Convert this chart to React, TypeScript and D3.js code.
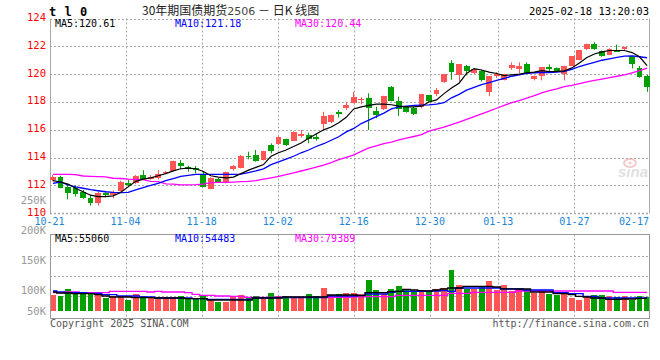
import React from 'react';
import * as d3 from 'd3';

const dates = ['10-21','10-22','10-23','10-24','10-25','10-28','10-29','10-30','10-31','11-01','11-04','11-05','11-06','11-07','11-08','11-11','11-12','11-13','11-14','11-15','11-18','11-19','11-20','11-21','11-22','11-25','11-26','11-27','11-28','11-29','12-02','12-03','12-04','12-05','12-06','12-09','12-10','12-11','12-12','12-13','12-16','12-17','12-18','12-19','12-20','12-23','12-24','12-25','12-26','12-27','12-30','12-31','01-02','01-03','01-06','01-07','01-08','01-09','01-10','01-13','01-14','01-15','01-16','01-17','01-20','01-21','01-22','01-23','01-24','01-27','02-05','02-06','02-07','02-10','02-11','02-12','02-13','02-14','02-17','02-18'];

const opens = [112.40,112.63,111.92,111.84,111.56,111.13,110.77,111.49,111.32,111.63,112.20,112.20,112.75,112.50,112.56,112.87,113.04,113.59,113.35,113.28,112.80,111.75,112.50,112.27,113.19,113.28,114.12,114.19,113.83,114.91,114.96,115.34,115.22,115.58,115.63,115.46,116.42,116.54,117.30,117.59,117.95,118.20,118.26,117.35,117.47,119.10,118.07,117.66,117.54,117.66,118.47,118.54,119.41,120.78,119.95,120.59,120.07,120.24,118.71,119.84,119.60,120.47,120.38,120.71,119.67,119.90,120.48,120.44,120.00,120.61,121.03,121.80,122.14,121.66,121.41,121.77,121.84,121.32,120.42,119.84];
const closes = [112.63,111.84,111.49,111.39,111.13,110.72,111.44,111.32,111.56,112.28,112.04,112.68,112.50,112.63,112.83,112.99,113.76,113.40,113.16,113.11,111.92,112.56,112.27,112.95,113.43,114.12,114.07,113.78,114.48,114.48,115.51,114.91,115.87,115.70,115.34,115.37,116.99,117.07,117.14,117.78,118.34,118.25,117.54,117.07,118.43,118.07,117.47,117.30,117.14,118.57,118.07,118.89,120.00,120.19,120.71,120.26,120.38,119.60,119.84,120.02,120.00,120.66,120.59,120.00,119.88,120.48,120.37,120.24,120.58,121.29,121.72,122.17,121.79,121.32,121.84,121.62,121.95,120.73,119.76,119.06];
const highs = [112.75,112.70,112.02,112.00,111.68,111.30,111.56,111.62,111.65,112.35,112.40,112.75,113.10,112.75,113.10,113.04,113.78,113.83,113.42,113.40,113.04,112.58,112.55,113.00,113.48,114.19,114.43,114.55,114.50,115.03,115.53,115.36,115.90,115.99,115.80,115.75,117.30,117.10,117.42,118.02,118.74,118.34,118.62,117.66,118.45,119.15,118.38,117.71,117.66,118.59,118.50,119.00,120.02,121.01,120.73,120.66,120.43,120.31,119.86,120.14,120.02,120.85,120.85,120.85,119.90,120.50,120.70,120.48,120.60,121.31,121.74,122.19,122.30,121.70,121.86,122.12,121.97,121.34,120.59,119.94];
const lows = [112.30,111.80,111.00,111.20,111.03,110.55,110.55,111.20,111.08,111.56,111.92,112.10,112.43,112.43,112.43,112.82,113.00,113.18,112.99,112.87,111.90,111.72,112.20,112.15,113.07,113.23,113.88,113.71,113.80,114.31,114.91,114.84,115.20,115.44,115.03,115.22,115.99,116.47,116.88,117.43,117.90,117.83,115.99,116.83,117.42,118.05,117.00,117.23,117.07,117.54,118.02,118.42,119.38,119.60,119.48,119.91,120.00,119.48,118.42,119.72,119.55,120.31,120.07,119.98,119.55,119.55,120.20,120.17,119.55,120.58,121.00,121.72,121.74,121.25,121.36,121.60,121.70,120.42,119.74,118.73];

const ma5 = [112.35,112.25,112.10,111.80,111.55,111.30,111.20,111.20,111.25,111.50,111.90,112.30,112.45,112.55,112.70,112.85,113.05,113.20,113.25,113.20,113.00,112.70,112.60,112.55,112.60,112.85,113.10,113.30,113.50,114.10,114.35,114.55,114.80,115.05,115.40,115.70,116.00,116.20,116.50,116.90,117.50,117.65,117.75,117.85,117.85,117.80,117.70,117.65,117.65,117.70,118.00,118.15,118.60,119.00,119.35,120.05,120.40,120.30,120.15,120.05,119.90,119.95,120.00,120.10,120.15,120.25,120.18,120.20,120.24,120.45,120.80,121.20,121.45,121.60,121.70,121.70,121.70,121.55,121.25,120.61];
const ma10 = [112.15,112.25,112.05,111.90,111.80,111.70,111.62,111.55,111.50,111.49,111.50,111.68,111.85,112.00,112.15,112.35,112.50,112.65,112.72,112.80,112.80,112.80,112.80,112.80,112.80,112.82,112.93,113.05,113.20,113.50,113.70,113.90,114.10,114.35,114.55,114.80,115.00,115.25,115.50,115.85,116.10,116.45,116.70,116.95,117.20,117.50,117.65,117.70,117.75,117.78,117.79,117.85,117.95,118.30,118.55,118.85,119.05,119.25,119.40,119.55,119.70,119.85,119.95,120.05,120.10,120.12,120.12,120.15,120.20,120.35,120.55,120.70,120.85,121.00,121.10,121.20,121.30,121.32,121.25,121.18];
const ma30 = [112.80,112.80,112.80,112.78,112.68,112.65,112.63,112.62,112.52,112.50,112.45,112.44,112.42,112.30,112.27,112.12,112.10,112.05,112.04,112.06,112.10,112.20,112.22,112.22,112.24,112.27,112.30,112.35,112.45,112.55,112.65,112.78,112.90,113.04,113.18,113.32,113.47,113.65,113.85,114.02,114.20,114.45,114.70,114.85,115.00,115.12,115.27,115.40,115.52,115.65,115.90,116.05,116.20,116.38,116.55,116.75,116.95,117.15,117.35,117.55,117.75,117.95,118.10,118.28,118.45,118.65,118.82,118.95,119.10,119.20,119.32,119.45,119.55,119.65,119.75,119.85,119.95,120.10,120.25,120.44];

// volume, thousands of lots
const volumes = [91.1,89.4,101,95,92.8,95,93.3,86.7,90,87.8,83.3,93.3,90.6,86.7,87.2,86.7,87.2,90.6,86.7,84.4,90.6,85.6,80.6,80,88.3,91.1,87,90,85.6,95,90,90,86.7,86.7,93.3,90,103.3,91.1,93.3,95,95,93.3,116.7,100,93.3,101.7,106.7,100,97.8,100,97.8,101.7,103.3,133.3,108.3,101.7,101.7,105,115,100,108.3,98.3,101.7,100,95,98.3,93.3,91.7,93.3,86.7,83.3,88.3,91.7,91.7,90,88.3,90,83.3,90,88.3];
const volMa5 = [96.7,95,95,93.9,93.9,93.9,92.2,90,88.3,88.3,88.3,87.2,87.2,87.2,86.7,86.7,86.7,86.7,85.6,85.6,85.6,83.3,83.3,83.3,83.3,83.3,83.1,86.7,86.7,86.7,86.7,88.3,88.3,88.3,88.3,88.3,88.3,91.7,91.7,91.7,91.7,90.6,95.6,95.6,95.6,97.2,97.8,101,100,99,98.3,100,101.7,103.3,103.3,106.1,106.1,106.1,106.1,105,102,102,101.7,101.7,96.7,96.7,96.7,93.9,93.9,92.2,89.4,88.3,86.7,86.7,84.4,84.4,85,85,86,86];
const volMa10 = [98.3,96.7,95.6,95.6,95.6,94.4,94.4,92.2,92.2,90,90,90,88.3,88.3,86.7,86.7,86.7,86.7,86.7,85.6,85.6,84.4,84.4,84.4,84.4,84.4,84.4,86.7,86.7,86.7,87.5,87.5,87.5,87.5,87.5,87.5,87.5,90,90,90,90,91.1,93.3,93.3,93.3,96,97.8,97.8,97.8,97.8,98.3,98.3,99,97.8,103.3,103.3,103.3,103.3,103.3,103.3,101.7,101.7,101.7,100,100,100,100,95.6,95.6,93.9,93.9,89.4,89.4,86.7,86.7,86.7,86.7,86.7,86.7,86.7];
const volMa30 = [95.6,95.6,96.7,96.7,95.6,95.6,95.6,95.6,97.8,97.8,97.8,97.8,97.8,96.7,97.8,96.7,96.7,96.7,95.6,92.8,91.1,91.1,90,90,89.4,89.4,87.8,87.8,87.8,87.8,87.8,87.8,87.8,87.8,87.8,87.8,87.8,87.8,87.8,87.8,88.5,88.5,88.9,88.9,88.9,88.9,91.1,91.1,91.1,91.1,91.1,91.1,91.1,94.4,94.4,94.4,96.1,96.1,96.1,96.1,96.1,96.1,98.3,98.3,98.3,98.3,98.3,98.3,98.3,98.3,98.3,98.3,98.3,98.3,98.3,96.1,96.1,96.1,96.1,96.1];

const priceTicks = [110, 112, 114, 116, 118, 120, 122, 124];
const volTicks = [50, 100, 150, 200, 250];
const dateTicks = ['10-21', '11-04', '11-18', '12-02', '12-16', '12-30', '01-13', '01-27', '02-17'];

const priceLegend = [
  { label: 'MA5:120.61', color: '#000000' },
  { label: 'MA10:121.18', color: '#0000ff' },
  { label: 'MA30:120.44', color: '#ff00ff' },
];
const volLegend = [
  { label: 'MA5:55060', color: '#000000' },
  { label: 'MA10:54483', color: '#0000ff' },
  { label: 'MA30:79389', color: '#ff00ff' },
];

const W = 660, H = 360;
const L = 50, R = 650;
const PT = 18.5, PB = 213.3;
const VT = 234.5, VB = 318.5, VBASE = 311;
const MONO = "'DejaVu Sans Mono', 'Liberation Mono', monospace";
const UP = '#ff5555';
const DOWN = '#00a000';
const GRID = '#a8a8a8';

const px = (v: number) => Math.round(v) + 0.5;

export default function App() {
  const x = d3.scaleBand<string>().domain(dates).range([L, R]).paddingInner(0.22);
  const gx = d3.scalePoint<string>().domain(dates).range([49.5, 650.5]);
  const y = d3.scaleLinear().domain([110, 124]).range([PB, PT]);
  const yv = d3.scaleLinear().domain([0, 250]).range([350, 200]);
  const bw = x.bandwidth();
  const cx = (i: number) => (x(dates[i]) as number) + bw / 2;

  const priceLine = (arr: number[]) =>
    d3.line<number>().x((_, i) => cx(i)).y((v) => y(v))(arr) || '';
  const volLine = (arr: number[]) =>
    d3.line<number>().x((_, i) => cx(i)).y((v) => yv(v)).curve(d3.curveStep)(arr) || '';

  const volGrid = d3.range(1, 4).map((k) => VT + 1 + k * 20);

  return (
    <svg width={W} height={H} style={{ position: 'absolute', left: 0, top: 0, background: '#fff' }}
      xmlns="http://www.w3.org/2000/svg">
      <rect x={0} y={0} width={W} height={H} fill="#fff" />

      {/* header */}
      <text x={49} y={16} fontFamily={MONO} fontWeight="bold" fontSize={12} fill="#000" letterSpacing={0.5}>t l 0</text>
      <text x={142} y={15} fontFamily="'Noto Sans CJK SC', sans-serif" fontSize={12} fill="#222">
        30年期国债期货<tspan fontFamily="'DejaVu Sans', sans-serif" fontSize={11} fill="#444">2506</tspan> － 日K 线图
      </text>
      <text x={649} y={15} textAnchor="end" fontFamily={MONO} fontSize={10.5} fill="#000">2025-02-18 13:20:03</text>

      {/* price panel grid */}
      {priceTicks.map((t) => (
        <line key={'pg' + t} x1={L} x2={R} y1={px(y(t))} y2={px(y(t))} stroke={GRID}
          strokeDasharray="2,2" strokeWidth={t === 110 ? 1.5 : 1} />
      ))}
      {dateTicks.slice(1, -1).map((d) => (
        <line key={'pv' + d} x1={px(gx(d) as number)} x2={px(gx(d) as number)} y1={PT} y2={PB}
          stroke={GRID} strokeDasharray="2,2" />
      ))}
      <line x1={px(L)} x2={px(L)} y1={PT} y2={PB} stroke={GRID} />
      <line x1={649.5} x2={649.5} y1={PT} y2={PB} stroke={GRID} />

      {/* sina watermark */}
      <g opacity={0.55}>
        <ellipse cx={630} cy={163} rx={6} ry={4} fill="none" stroke="#f2a0a0" strokeWidth={2} />
        <circle cx={630} cy={163} r={1.6} fill="#f2a0a0" />
        <text x={648} y={177} textAnchor="end" fontFamily="'Liberation Sans', Arial, sans-serif"
          fontStyle="italic" fontWeight="bold" fontSize={15} fill="#c8c8c8">sina</text>
      </g>

      {/* price labels */}
      {priceTicks.map((t) => (
        <text key={'pl' + t} x={46} y={y(t) + 2.5} textAnchor="end" fontFamily={MONO}
          fontSize={10.5} fill="#ff0000">{t}</text>
      ))}

      {/* candles */}
      {dates.map((d, i) => {
        const o = opens[i], c = closes[i];
        const col = c >= o ? UP : DOWN;
        const top = y(Math.max(o, c));
        const bot = y(Math.min(o, c));
        const xc = Math.floor(cx(i)) + 0.5;
        return (
          <g key={'c' + d}>
            <line x1={xc} x2={xc} y1={y(highs[i])} y2={y(lows[i])} stroke={col} strokeWidth={1} />
            <rect x={x(d)} y={top} width={bw} height={Math.max(1.2, bot - top)} fill={col}
              shapeRendering="crispEdges" />
          </g>
        );
      })}

      {/* price MA lines */}
      <path d={priceLine(ma30)} fill="none" stroke="#ff00ff" strokeWidth={1.3} />
      <path d={priceLine(ma10)} fill="none" stroke="#0000ff" strokeWidth={1.3} />
      <path d={priceLine(ma5)} fill="none" stroke="#000000" strokeWidth={1.2} />

      {/* price legend */}
      {priceLegend.map((m, k) => (
        <text key={'lg' + k} x={55 + k * 120} y={27} fontFamily={MONO} fontSize={10} fill={m.color}>{m.label}</text>
      ))}

      {/* date labels */}
      {dateTicks.map((d, k) => {
        const gxv = gx(d) as number;
        const last = k === dateTicks.length - 1;
        return (
          <text key={'dl' + d} x={last ? 649 : gxv} y={225} textAnchor={last ? 'end' : 'middle'}
            fontFamily={MONO} fontSize={10} fill="#1a86d8">{d}</text>
        );
      })}

      {/* volume panel */}
      {volGrid.map((gy, k) => (
        <line key={'vg' + k} x1={L} x2={R} y1={px(gy)} y2={px(gy)} stroke={GRID} strokeDasharray="2,2" />
      ))}
      {dateTicks.slice(1, -1).map((d) => (
        <line key={'vv' + d} x1={px(gx(d) as number)} x2={px(gx(d) as number)} y1={VT} y2={VB}
          stroke={GRID} strokeDasharray="2,2" />
      ))}

      {dates.map((d, i) => {
        const col = closes[i] >= opens[i] ? UP : DOWN;
        const top = yv(volumes[i]);
        return (
          <rect key={'v' + d} x={x(d)} y={top} width={bw} height={VBASE - top} fill={col}
            shapeRendering="crispEdges" />
        );
      })}

      <path d={volLine(volMa30)} fill="none" stroke="#ff00ff" strokeWidth={1.3} />
      <path d={volLine(volMa10)} fill="none" stroke="#0000ff" strokeWidth={1.3} />
      <path d={volLine(volMa5)} fill="none" stroke="#000000" strokeWidth={1.3} />

      <rect x={50.5} y={VT} width={599} height={VB - VT} fill="none" stroke="#999" strokeWidth={1} />

      {volTicks.map((t) => (
        <text key={'vl' + t} x={46} y={Math.min(yv(t), VBASE) + 3.5} textAnchor="end" fontFamily={MONO}
          fontSize={10.5} fill="#999">{t}K</text>
      ))}

      {volLegend.map((m, k) => (
        <text key={'vlg' + k} x={55 + k * 120} y={242} fontFamily={MONO} fontSize={10} fill={m.color}>{m.label}</text>
      ))}

      {/* footer */}
      <text x={50} y={327} fontFamily={MONO} fontSize={10} fill="#555">Copyright 2025 SINA.COM</text>
      <text x={649} y={327} textAnchor="end" fontFamily={MONO} fontSize={10} fill="#555">http://finance.sina.com.cn</text>
    </svg>
  );
}
